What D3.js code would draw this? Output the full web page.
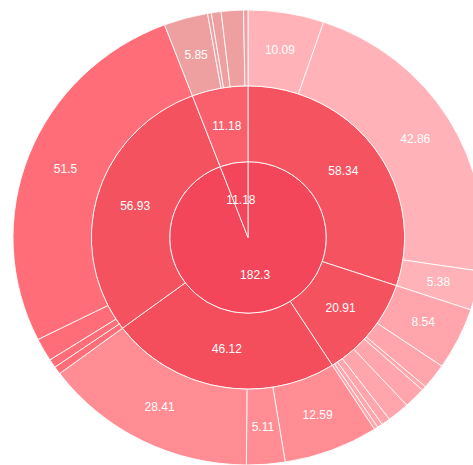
<!DOCTYPE html>
<html>
<head>
<meta charset="utf-8">
<script src="https://cdn.jsdelivr.net/npm/d3@7/dist/d3.min.js"></script>
<style>
  html, body { margin: 0; padding: 0; background: #fff; }
  svg { display: block; }
</style>
</head>
<body>
<div id="chart"></div>
<script>
// ---- data ----
const rootValues = [182.3, 11.18];            // centre disk nodes
const midA = [58.34, 20.91, 46.12, 56.93];    // children of 182.3
const midB = [11.18];                         // child of 11.18
const outer5834 = [10.09, 42.86, 5.38];
const outer2091 = [8.54, 3.52, 0.6, 2.9, 2.96, 1.18, 0.7, 0.51];
const outer4612 = [12.59, 5.11, 28.41];
const outer5693 = [1.07, 1.18, 3.18, 51.5];
const outer1118 = [5.85, 0.5, 1.3, 2.94, 0.59];

// ---- styles ----
const diskColor = '#f3465a';
const midColorsA = ['#f5535f', '#f5525f', '#f44e5c', '#f5525f'];
const midColorB = '#f9606c';
const outerColorsA = ['#ffb2b7', '#ffa5ab', '#ff8d93', '#ff6e78'];
const outerColorB = '#eea0a1';

const outerA = [outer5834, outer2091, outer4612, outer5693];

const W = 473, H = 465;
const cx = 248, cy = 237.5, sy = 0.968, R = 235;

const data = {
  children: [
    { value: rootValues[0], color: diskColor,
      children: midA.map((v, i) => ({ value: v, color: midColorsA[i],
        children: outerA[i].map(x => ({ value: x, color: outerColorsA[i] })) })) },
    { value: rootValues[1], color: diskColor,
      children: midB.map(v => ({ value: v, color: midColorB,
        children: outer1118.map(x => ({ value: x, color: outerColorB })) })) }
  ]
};

const root = d3.hierarchy(data);
root.each(n => {
  n.value = (n.data.value != null) ? n.data.value : d3.sum(n.data.children, c => c.value);
});
d3.partition().size([2 * Math.PI, 4])(root);

const rScale = d3.scaleLinear().domain([1, 4]).range([0, R]);

const svg = d3.select('#chart').append('svg')
  .attr('width', W).attr('height', H)
  .attr('viewBox', `0 0 ${W} ${H}`);

const g = svg.append('g')
  .attr('transform', `translate(${cx},${cy}) scale(1,${sy})`);

const arc = d3.arc()
  .startAngle(d => d.x0)
  .endAngle(d => d.x1)
  .innerRadius(d => rScale(d.y0))
  .outerRadius(d => rScale(d.y1));

const nodes = root.descendants().filter(d => d.depth > 0);

g.selectAll('path')
  .data(nodes)
  .join('path')
  .attr('d', arc)
  .attr('fill', d => d.data.color)
  .attr('stroke', '#fff')
  .attr('stroke-opacity', 0.85)
  .attr('stroke-width', 1)
  .attr('vector-effect', 'non-scaling-stroke');

const labelled = nodes.filter(d => (d.x1 - d.x0) * 180 / Math.PI > 8);

svg.append('g')
  .selectAll('text')
  .data(labelled)
  .join('text')
  .attr('x', d => {
    const a = (d.x0 + d.x1) / 2, r = (rScale(d.y0) + rScale(d.y1)) / 2;
    return cx + r * Math.sin(a);
  })
  .attr('y', d => {
    const a = (d.x0 + d.x1) / 2, r = (rScale(d.y0) + rScale(d.y1)) / 2;
    return cy - r * Math.cos(a) * sy;
  })
  .attr('text-anchor', 'middle')
  .attr('dominant-baseline', 'central')
  .attr('fill', '#fff')
  .attr('font-family', '"Liberation Sans", Arial, sans-serif')
  .attr('font-size', 12)
  .text(d => d.data.value);
</script>
</body>
</html>
